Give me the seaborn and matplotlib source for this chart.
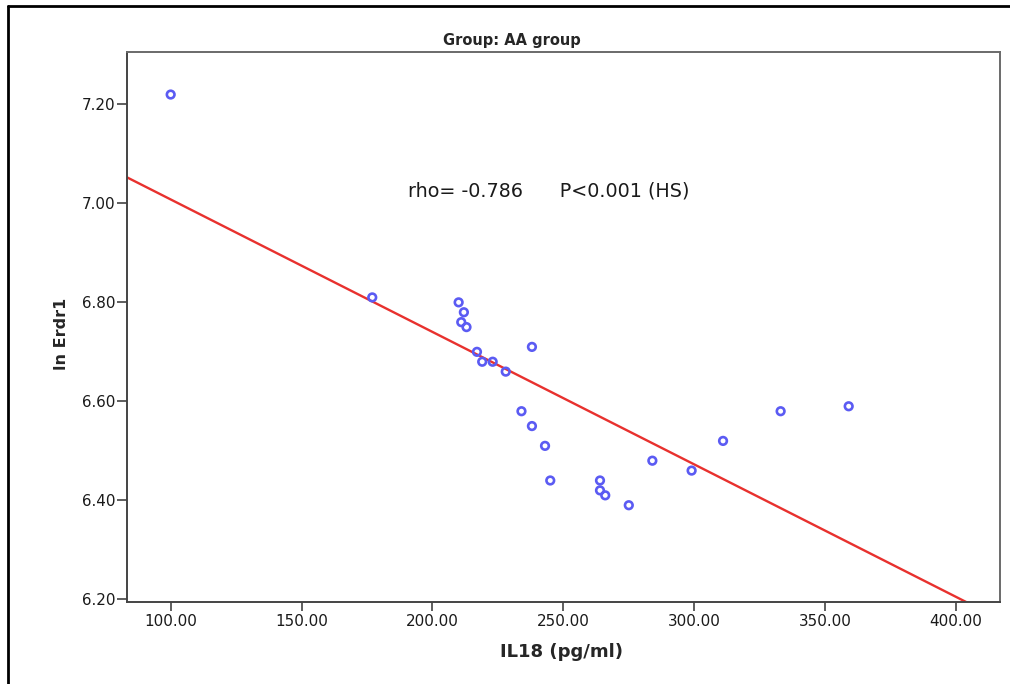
import matplotlib
matplotlib.use("Agg")
import pandas as pd
import matplotlib.pyplot as plt
import seaborn as sns
from matplotlib.lines import Line2D
from matplotlib.ticker import FormatStrFormatter

# values (Group: AA group)
il18 = [100, 177, 210, 212, 211, 213, 217, 219, 223, 228, 238, 234,
        238, 243, 245, 264, 264, 266, 275, 284, 299, 311, 333, 359]
ln_erdr1 = [7.22, 6.81, 6.80, 6.78, 6.76, 6.75, 6.70, 6.68, 6.68, 6.66, 6.71, 6.58,
            6.55, 6.51, 6.44, 6.44, 6.42, 6.41, 6.39, 6.48, 6.46, 6.52, 6.58, 6.59]
x_ticks = [100, 150, 200, 250, 300, 350, 400]
y_ticks = [6.2, 6.4, 6.6, 6.8, 7.0, 7.2]

df = pd.DataFrame({"IL18": il18, "ln_Erdr1": ln_erdr1})

sns.set_style("ticks")
plt.rcParams['font.family'] = ['DejaVu Sans']

fig = plt.figure(figsize=(10.1, 6.84), dpi=100)
ax = fig.add_axes([0.1257, 0.1203, 0.8644, 0.8037])
ax.set_xlim(83.3, 416.8)
ax.set_ylim(6.195, 7.306)

# fit line across the whole x range (clipped by the axes)
sns.regplot(data=df, x="IL18", y="ln_Erdr1", scatter=False, ci=None,
            truncate=False, color="#e8312e", line_kws={"linewidth": 1.7}, ax=ax)
sns.scatterplot(data=df, x="IL18", y="ln_Erdr1", marker="o", s=30,
                facecolors="none", edgecolor="#5b5bf3", color="#5b5bf3",
                linewidth=1.9, zorder=3, ax=ax)

ax.set_xlim(83.3, 416.8)
ax.set_ylim(6.195, 7.306)
ax.set_xticks(x_ticks)
ax.set_yticks(y_ticks)
ax.xaxis.set_major_formatter(FormatStrFormatter("%.2f"))
ax.yaxis.set_major_formatter(FormatStrFormatter("%.2f"))
ax.tick_params(axis="x", direction="out", length=6.5, width=1.1, pad=2.5,
               labelsize=10.9, color="#333333", labelcolor="#1a1a1a")
ax.tick_params(axis="y", direction="out", length=7.5, width=1.1, pad=1,
               labelsize=10.9, color="#333333", labelcolor="#1a1a1a")

for side in ["left", "bottom"]:
    ax.spines[side].set_visible(True)
    ax.spines[side].set_color("#444444")
    ax.spines[side].set_linewidth(1.4)
for side in ["top", "right"]:
    ax.spines[side].set_visible(True)
    ax.spines[side].set_color("#6a6a6a")
    ax.spines[side].set_linewidth(1.4)

ax.set_xlabel("IL18 (pg/ml)", fontsize=13, fontweight="bold", va="center")
ax.xaxis.set_label_coords(0.498, -0.0915)
ax.set_ylabel("ln Erdr1", fontsize=11.5, fontweight="bold", va="center")
ax.yaxis.set_label_coords(-0.0745, 0.487)

ax.text(0.322, 0.738, "rho= -0.786      P<0.001 (HS)", transform=ax.transAxes,
        fontsize=13.8, color="#1a1a1a", ha="left", va="baseline")

fig.text(512 / 1010, 1 - 40 / 684, "Group: AA group", fontsize=10.5,
         fontweight="bold", ha="center", va="center")

# outer frame of the SPSS output window
fig.add_artist(Line2D([8 / 1010, 8 / 1010], [0, 1 - 6 / 684],
                      transform=fig.transFigure, color="black", linewidth=2))
fig.add_artist(Line2D([8 / 1010, 1], [1 - 6 / 684, 1 - 6 / 684],
                      transform=fig.transFigure, color="black", linewidth=2))

fig.savefig("out.png", dpi=100)
